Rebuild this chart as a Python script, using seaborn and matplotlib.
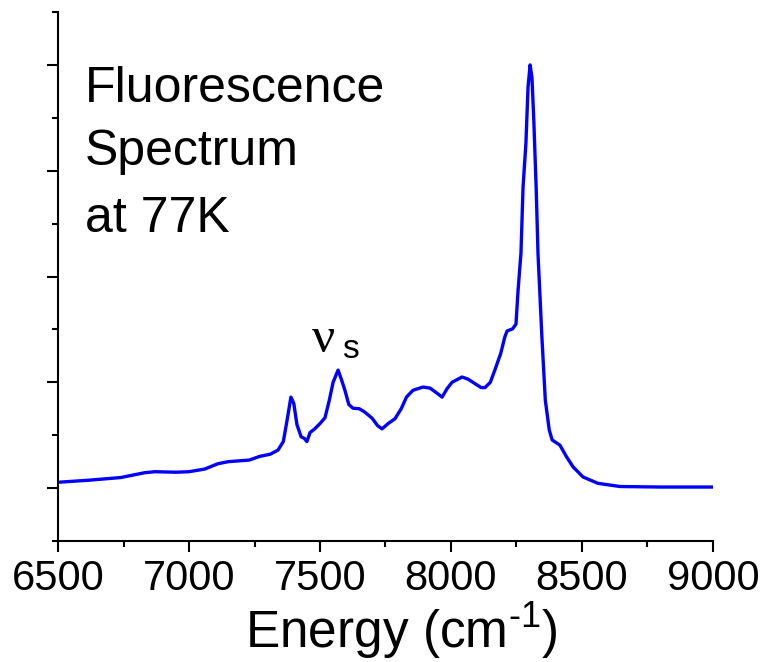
import matplotlib
matplotlib.use("Agg")
import matplotlib.pyplot as plt
from matplotlib.ticker import MultipleLocator, NullFormatter
import numpy as np
import pandas as pd
import seaborn as sns

# Emission spectrum at 77 K: energy (cm^-1) and normalized intensity
energy = [6500, 6620, 6740, 6830, 6870, 6950, 7000, 7060, 7110, 7150,
          7230, 7270, 7310, 7340, 7360, 7375, 7389, 7400, 7412, 7428,
          7440, 7450, 7462, 7480, 7500, 7519, 7535, 7550, 7569, 7582,
          7595, 7610, 7626, 7650, 7670, 7699, 7720, 7737, 7760, 7786,
          7810, 7830, 7855, 7893, 7920, 7945, 7966, 7985, 8004, 8042,
          8065, 8090, 8115, 8130, 8150, 8168, 8190, 8205, 8214, 8235,
          8248, 8256, 8267, 8275, 8286, 8294, 8302, 8309, 8316, 8325,
          8332, 8347, 8360, 8375, 8386, 8416, 8440, 8466, 8504, 8561,
          8645, 8800, 9000]
intensity = [0.011, 0.015, 0.020, 0.029, 0.031, 0.030, 0.031, 0.036, 0.046, 0.050,
             0.053, 0.060, 0.064, 0.072, 0.088, 0.130, 0.172, 0.160, 0.120, 0.097,
             0.094, 0.088, 0.105, 0.112, 0.122, 0.133, 0.165, 0.200, 0.223, 0.205,
             0.185, 0.158, 0.151, 0.150, 0.144, 0.132, 0.118, 0.112, 0.122, 0.131,
             0.150, 0.172, 0.185, 0.191, 0.189, 0.180, 0.172, 0.188, 0.200, 0.210,
             0.206, 0.198, 0.190, 0.190, 0.200, 0.224, 0.255, 0.285, 0.297, 0.301,
             0.310, 0.374, 0.444, 0.569, 0.652, 0.758, 0.800, 0.776, 0.696, 0.569,
             0.444, 0.285, 0.166, 0.110, 0.091, 0.081, 0.060, 0.040, 0.021, 0.009,
             0.003, 0.002, 0.002]

x_ticks = [6500, 7000, 7500, 8000, 8500, 9000]
title_lines = ["Fluorescence", "Spectrum", "at 77K"]

sns.set_theme(style="ticks")
plt.rcParams["font.family"] = ["Liberation Sans", "DejaVu Sans"]
plt.rcParams["mathtext.fontset"] = "custom"
plt.rcParams["mathtext.rm"] = "Liberation Sans"

df = pd.DataFrame({"energy": energy, "intensity": intensity})

fig = plt.figure(figsize=(7.65, 6.62), dpi=100)
ax = fig.add_axes([58 / 765, 1 - 541 / 662, (713 - 58) / 765, (541 - 12) / 662])

sns.lineplot(data=df, x="energy", y="intensity", ax=ax, color="#0000FF",
             linewidth=2.4, sort=True)

ax.set_xlim(6500, 9000)
ax.set_ylim(-0.1, 0.9)
ax.set_xticks(x_ticks)
ax.set_xticklabels([str(t) for t in x_ticks])
ax.xaxis.set_minor_locator(MultipleLocator(250))
ax.yaxis.set_major_locator(MultipleLocator(0.2))
ax.yaxis.set_minor_locator(MultipleLocator(0.1))
ax.yaxis.set_major_formatter(NullFormatter())

for side in ["top", "right"]:
    ax.spines[side].set_visible(False)
for side in ["left", "bottom"]:
    ax.spines[side].set_linewidth(1.5)
    ax.spines[side].set_color("black")

ax.tick_params(axis="both", which="major", length=8, width=1.5, color="black",
               direction="out")
ax.tick_params(axis="both", which="minor", length=4, width=1.5, color="black",
               direction="out")
ax.tick_params(axis="x", labelsize=30, pad=5, labelcolor="black")

ax.set_xlabel(r"Energy (cm$^{\text{-}1}$)", fontsize=37, labelpad=1, color="black")
ax.xaxis.label.set_x(0.524)
ax.set_ylabel("")

# Annotation block, one line at a time
for text, yv in zip(title_lines, [0.730, 0.611, 0.484]):
    ax.text(6603, yv, text, fontsize=36, color="black", ha="left", va="baseline")

# Symmetric stretch label
ax.text(7470, 0.257, "ν", fontsize=37, color="black", ha="left", va="baseline",
        family=["Liberation Serif", "DejaVu Serif"])
ax.text(7584, 0.245, "s", fontsize=24, color="black", ha="left", va="baseline")

fig.savefig("out.png", dpi=100, facecolor="white")
